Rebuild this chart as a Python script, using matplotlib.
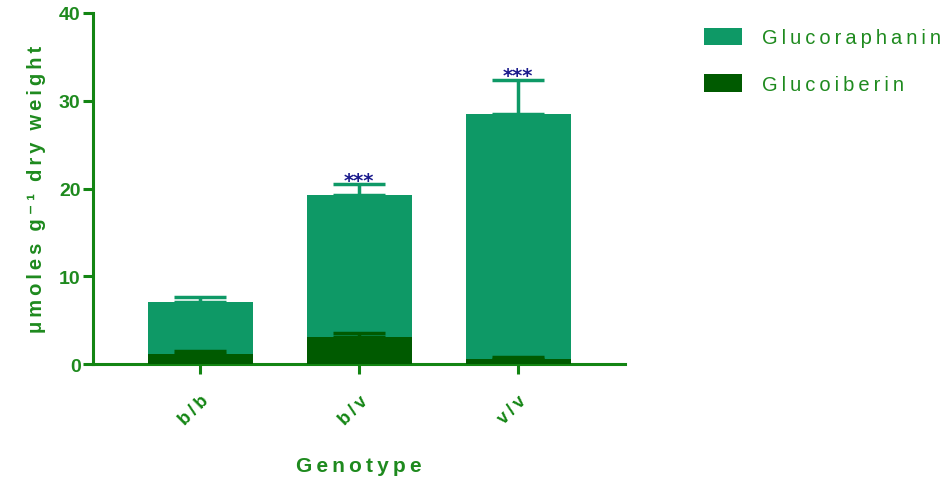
import matplotlib
matplotlib.use("Agg")
import matplotlib.pyplot as plt
from matplotlib.patches import Patch
import matplotlib.transforms as mtransforms

genotypes = ["b/b", "b/v", "v/v"]
glucoraphanin = [7.07, 19.26, 28.5]
glucoraphanin_err = [0.55, 1.25, 3.9]
glucoiberin = [1.2, 3.08, 0.57]
glucoiberin_err = [0.25, 0.42, 0.2]
significance = ["", "***", "***"]
series_names = ["Glucoraphanin", "Glucoiberin"]

light = "#0e9966"
dark = "#005a00"
axcol = "#138513"
txtcol = "#1e8a1e"
starcol = "#1a1a8c"

THIN = "\u2009"


def spaced(s, word_gap=3):
    words = s.split(" ")
    return (THIN * word_gap).join(THIN.join(w) for w in words)


plt.rcParams['font.family'] = ['Liberation Sans', 'DejaVu Sans']

fig = plt.figure(figsize=(9.5, 4.81), dpi=100)
ax = fig.add_axes([0.098, 0.241, 0.560, 0.730])

x = list(range(len(genotypes)))
w = 0.66
ax.bar(x, glucoraphanin, width=w, color=light, zorder=2)
ax.errorbar(x, glucoraphanin, yerr=[[0]*3, glucoraphanin_err], fmt='none',
            ecolor=light, elinewidth=2.5, capsize=19, capthick=2.5, zorder=3)
ax.bar(x, glucoiberin, width=w, color=dark, zorder=4)
ax.errorbar(x, glucoiberin, yerr=[[0]*3, glucoiberin_err], fmt='none',
            ecolor=dark, elinewidth=2.5, capsize=19, capthick=2.5, zorder=5)

for xi, v, e, s in zip(x, glucoraphanin, glucoraphanin_err, significance):
    if s:
        ax.text(xi, v + e - 0.2, s, ha='center', va='baseline', color=starcol,
                fontsize=14, fontweight='bold', family='DejaVu Sans')

ax.set_xlim(-0.673, 2.673)
ax.set_ylim(0, 40)
ax.set_yticks([0, 10, 20, 30, 40])
ax.set_xticks(x)
ax.set_xticklabels([spaced(g) for g in genotypes], rotation=45, ha='right', va='top',
                   rotation_mode='anchor',
                   fontsize=13, fontweight='bold', color=txtcol)
offset = mtransforms.ScaledTranslation(4 / 100, 0, fig.dpi_scale_trans)
for lab in ax.get_xticklabels():
    lab.set_transform(lab.get_transform() + offset)
for lab in ax.get_yticklabels():
    lab.set_fontweight('bold')
    lab.set_fontsize(14)
    lab.set_color(txtcol)

for sp in ['top', 'right']:
    ax.spines[sp].set_visible(False)
for sp in ['left', 'bottom']:
    ax.spines[sp].set_color(axcol)
    ax.spines[sp].set_linewidth(2.2)
ax.tick_params(axis='both', colors=axcol, width=2.2, length=7, direction='out')
ax.tick_params(axis='x', pad=13)
ax.tick_params(axis='y', labelcolor=txtcol, pad=2)

ax.set_xlabel(spaced("Genotype"), fontsize=15, fontweight='bold', color=txtcol, labelpad=20)
ax.set_ylabel(spaced("μmoles g⁻¹ dry weight"), fontsize=14.5, fontweight='bold',
              color=txtcol, labelpad=9)

handles = [Patch(facecolor=light, label=spaced(series_names[0])),
           Patch(facecolor=dark, label=spaced(series_names[1]))]
leg = fig.legend(handles=handles, loc='upper left', bbox_to_anchor=(0.7326, 0.957),
                 frameon=False, fontsize=14.5, handlelength=1.9, handleheight=0.94,
                 labelspacing=1.35, handletextpad=0.96, borderaxespad=0)
for t in leg.get_texts():
    t.set_color(txtcol)

fig.savefig("out.png", dpi=100)
